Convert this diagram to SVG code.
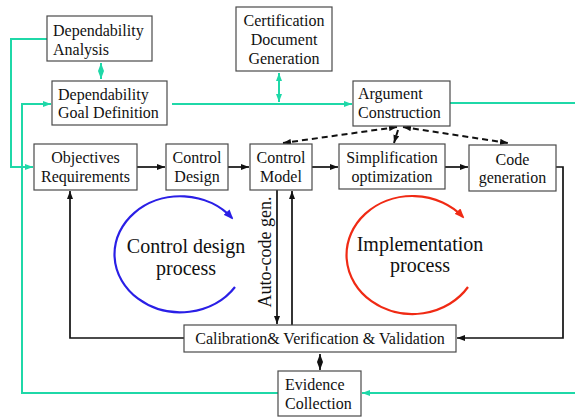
<svg xmlns="http://www.w3.org/2000/svg" width="575" height="419" viewBox="0 0 575 419">
<style>
.box{fill:#fff;stroke:#4a4a4a;stroke-width:1.2}
.t{font-family:"Liberation Serif","Times New Roman",serif;font-size:16px;fill:#111}
.c{text-anchor:middle}
.big{font-family:"Liberation Serif","Times New Roman",serif;font-size:20px;fill:#111;text-anchor:middle}
.g{fill:none;stroke:#1fd8a8;stroke-width:2}
.k{fill:none;stroke:#111;stroke-width:1.7}
.d{fill:none;stroke:#111;stroke-width:2;stroke-dasharray:6,4}
</style>
<defs>
<marker id="ak" viewBox="0 0 8 6" refX="8" refY="3" markerWidth="8" markerHeight="6" markerUnits="userSpaceOnUse" orient="auto-start-reverse"><path d="M0,0 L8,3 L0,6 z" fill="#111"/></marker>
<marker id="ag" viewBox="0 0 8 6" refX="8" refY="3" markerWidth="8" markerHeight="6" markerUnits="userSpaceOnUse" orient="auto-start-reverse"><path d="M0,0 L8,3 L0,6 z" fill="#1fd8a8"/></marker>
<marker id="ab" viewBox="0 0 10 8" refX="8" refY="4" markerWidth="10" markerHeight="8" markerUnits="userSpaceOnUse" orient="auto"><path d="M0,0 L10,4 L0,8 z" fill="#2a1fe6"/></marker>
<marker id="ar" viewBox="0 0 10 8" refX="8" refY="4" markerWidth="10" markerHeight="8" markerUnits="userSpaceOnUse" orient="auto"><path d="M0,0 L10,4 L0,8 z" fill="#f02a14"/></marker>
</defs>

<g id="connectors">
<path class="g" d="M47,39 H11 V167 H33" marker-end="url(#ag)"/>
<path class="g" d="M278,393 H22 V104 H51" marker-end="url(#ag)"/>
<path class="g" d="M172,104 H352" marker-end="url(#ag)"/>
<path class="g" d="M279,73 V102" marker-start="url(#ag)" marker-end="url(#ag)"/>
<path class="g" d="M101,63 V79" marker-start="url(#ag)" marker-end="url(#ag)"/>
<path class="g" d="M450,103 H575"/>
<path class="g" d="M575,393 H362" marker-end="url(#ag)"/>

<path class="k" d="M137,167 H165" marker-end="url(#ak)"/>
<path class="k" d="M228,167 H249" marker-end="url(#ak)"/>
<path class="k" d="M312,167 H338" marker-end="url(#ak)"/>
<path class="k" d="M445,167 H468" marker-end="url(#ak)"/>
<path class="k" d="M556,167 H563 V338 H457" marker-end="url(#ak)"/>
<path class="k" d="M184,338 H70 V191" marker-end="url(#ak)"/>
<path class="k" d="M277,190 V324" marker-end="url(#ak)"/>
<path class="k" d="M292,325 V191" marker-end="url(#ak)"/>
<path class="k" d="M320,354 V370" marker-start="url(#ak)" marker-end="url(#ak)"/>

<path class="d" d="M397,127 L283,143" marker-start="url(#ak)" marker-end="url(#ak)"/>
<path class="d" d="M403,127 L508,143" marker-start="url(#ak)" marker-end="url(#ak)"/>
<path class="d" d="M398,130 L394,143" marker-end="url(#ak)"/>

<path d="M235,287 A66,58 0 1 1 232,218" fill="none" stroke="#2a1fe6" stroke-width="2.2" marker-end="url(#ab)"/>
<path d="M468,287 A66,59 0 1 1 463,217" fill="none" stroke="#f02a14" stroke-width="2.2" marker-end="url(#ar)"/>
</g>

<g id="dep-analysis"><rect class="box" x="47" y="16" width="105" height="45"/><text class="t" x="53" y="36">Dependability</text><text class="t" x="53" y="55">Analysis</text></g>
<g id="goal-def"><rect class="box" x="52" y="81" width="115" height="44"/><text class="t" x="58" y="100">Dependability</text><text class="t" x="58" y="118">Goal Definition</text></g>
<g id="cert-doc"><rect class="box" x="236" y="7" width="96" height="64"/><text class="t c" x="284" y="26">Certification</text><text class="t c" x="284" y="45">Document</text><text class="t c" x="284" y="64">Generation</text></g>
<g id="argument"><rect class="box" x="353" y="81" width="97" height="45"/><text class="t" x="358" y="99">Argument</text><text class="t" x="358" y="118">Construction</text></g>
<g id="objectives"><rect class="box" x="34" y="144" width="103" height="46"/><text class="t c" x="85.5" y="163">Objectives</text><text class="t c" x="85.5" y="182">Requirements</text></g>
<g id="control-design"><rect class="box" x="166" y="144" width="62" height="46"/><text class="t c" x="197" y="163">Control</text><text class="t c" x="197" y="182">Design</text></g>
<g id="control-model"><rect class="box" x="250" y="144" width="62" height="46"/><text class="t c" x="281" y="163">Control</text><text class="t c" x="281" y="182">Model</text></g>
<g id="simplification"><rect class="box" x="339" y="144" width="106" height="45"/><text class="t c" x="392" y="163">Simplification</text><text class="t c" x="392" y="182">optimization</text></g>
<g id="code-gen"><rect class="box" x="469" y="145" width="87" height="46"/><text class="t c" x="512.5" y="165">Code</text><text class="t c" x="512.5" y="183">generation</text></g>
<g id="calibration"><rect class="box" x="184" y="325" width="272" height="27"/><text class="t c" x="320" y="344">Calibration&amp; Verification &amp; Validation</text></g>
<g id="evidence"><rect class="box" x="278" y="371" width="83" height="45"/><text class="t" x="285" y="390">Evidence</text><text class="t" x="285" y="409">Collection</text></g>

<g id="labels">
<text class="big" x="186" y="253">Control design</text>
<text class="big" x="186" y="275">process</text>
<text class="big" x="420" y="251">Implementation</text>
<text class="big" x="420" y="272">process</text>
<text class="t" font-size="18" text-anchor="middle" transform="translate(271,252) rotate(-90)" style="font-size:18px">Auto-code gen.</text>
</g>
</svg>
